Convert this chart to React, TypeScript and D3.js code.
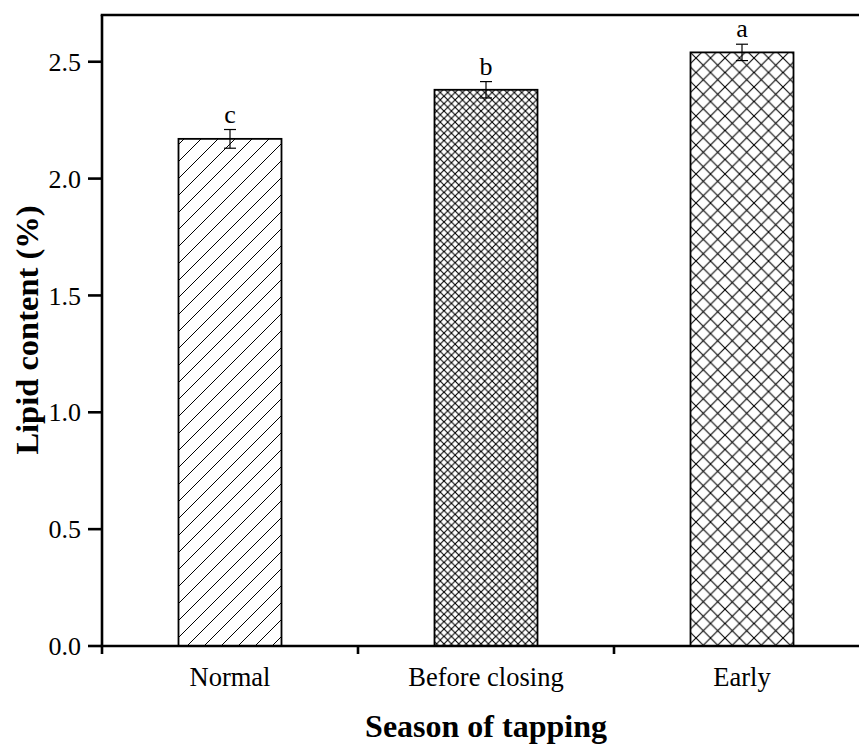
import React from "react";
import * as d3 from "d3";

const categories = ["Normal", "Before closing", "Early"];
const means = [2.17, 2.38, 2.54];
const errors = [0.04, 0.035, 0.035];
const letters = ["c", "b", "a"];
const patterns = ["diag", "fineCross", "coarseCross"];
const yTicks = [0.0, 0.5, 1.0, 1.5, 2.0, 2.5];

const W = 859;
const H = 745;
const left = 102;
const top = 15;
const bottom = 646;
const rightEnd = 870;
const serif = "'Liberation Serif', 'Times New Roman', serif";

export default function App() {
  const y = d3.scaleLinear().domain([0, 2.7]).range([bottom, top]);
  const x = d3.scalePoint<string>().domain(categories).range([left, rightEnd]).padding(0.5);
  const step = x.step();
  const barW = 103;
  const boundaries = d3.range(categories.length + 1).map((i) => left + i * step);

  return (
    <svg
      width={W}
      height={H}
      style={{ position: "absolute", left: 0, top: 0, display: "block", background: "#fff" }}
      fontFamily={serif}
    >
      <defs>
        <pattern id="diag" patternUnits="userSpaceOnUse" width={17} height={17}>
          <path d="M0,17 L17,0 M-4,4 L4,-4 M13,21 L21,13" stroke="#000" strokeWidth={1} />
        </pattern>
        <pattern id="fineCross" patternUnits="userSpaceOnUse" width={7.4} height={7.4}>
          <path d="M0,0 L7.4,7.4 M0,7.4 L7.4,0" stroke="#000" strokeWidth={1.1} />
        </pattern>
        <pattern id="coarseCross" patternUnits="userSpaceOnUse" width={14.5} height={14.5}>
          <path d="M0,0 L14.5,14.5 M0,14.5 L14.5,0" stroke="#000" strokeWidth={1.1} />
        </pattern>
      </defs>
      <rect x={0} y={0} width={W} height={H} fill="#fff" />

      {categories.map((c, i) => {
        const cx = x(c)!;
        const yTop = y(means[i]);
        const eHi = y(means[i] + errors[i]);
        const eLo = y(means[i] - errors[i]);
        return (
          <g key={c}>
            <rect x={cx - barW / 2} y={yTop} width={barW} height={bottom - yTop} fill="#fff" />
            <rect
              x={cx - barW / 2}
              y={yTop}
              width={barW}
              height={bottom - yTop}
              fill={`url(#${patterns[i]})`}
              stroke="#000"
              strokeWidth={1.8}
            />
            <line x1={cx} x2={cx} y1={eHi} y2={eLo} stroke="#000" strokeWidth={1.2} />
            <line x1={cx - 6} x2={cx + 6} y1={eHi} y2={eHi} stroke="#000" strokeWidth={1.2} />
            <line x1={cx - 6} x2={cx + 6} y1={eLo} y2={eLo} stroke="#000" strokeWidth={1.2} />
            <text x={cx} y={eHi - 7} textAnchor="middle" fontSize={26} fill="#000">
              {letters[i]}
            </text>
          </g>
        );
      })}

      {/* frame / axes */}
      <line x1={left} x2={left} y1={top} y2={bottom} stroke="#000" strokeWidth={2.6} />
      <line x1={left - 1.3} x2={rightEnd} y1={top} y2={top} stroke="#000" strokeWidth={2.6} />
      <line x1={left - 1.3} x2={rightEnd} y1={bottom} y2={bottom} stroke="#000" strokeWidth={2.6} />

      {yTicks.map((t) => (
        <g key={t}>
          <line x1={left - 14} x2={left} y1={y(t)} y2={y(t)} stroke="#000" strokeWidth={2.6} />
          <text x={81} y={y(t)} dy="0.35em" textAnchor="end" fontSize={26} fill="#000">
            {d3.format(".1f")(t)}
          </text>
        </g>
      ))}

      {boundaries.map((b, i) => (
        <line key={i} x1={b} x2={b} y1={bottom} y2={bottom + 8} stroke="#000" strokeWidth={2.6} />
      ))}

      {categories.map((c) => (
        <text key={c} x={x(c)!} y={686} textAnchor="middle" fontSize={26.5} fill="#000">
          {c}
        </text>
      ))}

      <text x={486} y={737} textAnchor="middle" fontSize={32} fontWeight="bold" fill="#000">
        Season of tapping
      </text>
      <text
        transform={`translate(38, 330) rotate(-90)`}
        textAnchor="middle"
        fontSize={32.5}
        fontWeight="bold"
        fill="#000"
      >
        Lipid content (%)
      </text>
    </svg>
  );
}
